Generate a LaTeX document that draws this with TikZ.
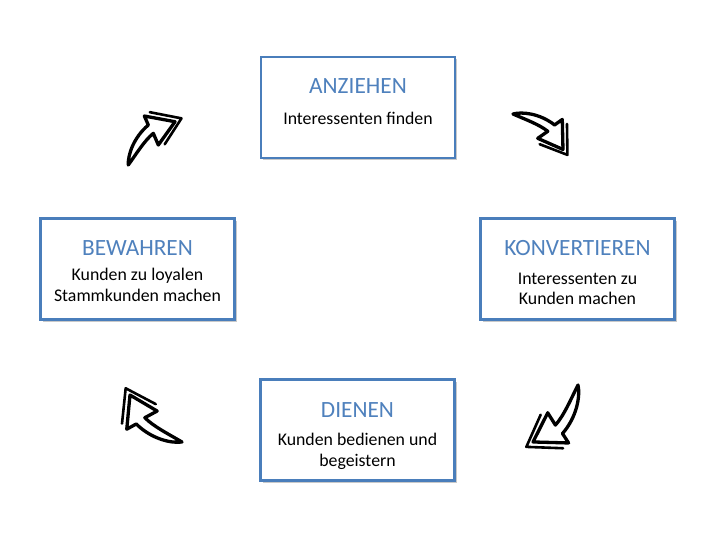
\documentclass[tikz,border=0pt]{standalone}
\usepackage{fontspec}
\setmainfont{Carlito}
\usetikzlibrary{shadows}
\definecolor{boxblue}{RGB}{74,126,187}
\definecolor{titleblue}{RGB}{79,129,189}
\tikzset{
 stagebox/.style={draw=boxblue, line width=2.6pt, fill=white, minimum width=194pt, minimum height=101pt, inner sep=0pt,
   drop shadow={shadow xshift=2pt, shadow yshift=-2.5pt, opacity=0.35, fill=black!60}},
 titletext/.style={anchor=base, inner sep=0pt, font=\fontsize{23.3}{28}\selectfont, text=titleblue},
 bodytext/.style={anchor=base, inner sep=0pt, font=\fontsize{17.8}{21}\selectfont, text=black},
 arrowline/.style={draw=black, line width=3.3pt, fill=white, line join=round, line cap=round},
 arrowdouble/.style={draw=black, line width=2.6pt, line join=round, line cap=round},
}
\newcommand{\cyclearrow}[4]{%
 \begin{scope}[shift={(#1,#2)}, rotate=#3, scale=#4]
 \draw[arrowline] (0,0) .. controls (0.1,0.12) and (0.35,0.26) .. (0.657,0.247) -- (0.707,0.393) -- (1,0) -- (0.559,-0.09) -- (0.626,0.098) .. controls (0.45,0.11) and (0.2,0.04) .. cycle;
 \draw[arrowdouble] (0.811,0.379) -- (1.11,-0.03) -- (0.64,-0.15);
 \end{scope}}
\begin{document}
\begin{tikzpicture}[x=1pt,y=1pt]
\useasboundingbox (0,0) rectangle (720,540);
\fill[white] (0,0) rectangle (720,540);

\node[stagebox] (anz) at (358,432.5) {};
\node[titletext] (anzT) at (358,446) {ANZIEHEN};
\node[bodytext] (anzB) at (358,415) {Interessenten finden};

\node[stagebox] (bew) at (137.5,271) {};
\node[titletext] (bewT) at (137.5,284) {BEWAHREN};
\node[bodytext] (bewB1) at (137.5,259) {Kunden zu loyalen};
\node[bodytext] (bewB2) at (137.5,238.3) {Stammkunden machen};

\node[stagebox] (kon) at (577.5,271) {};
\node[titletext] (konT) at (577.5,284) {KONVERTIEREN};
\node[bodytext] (konB1) at (577.5,255) {Interessenten zu};
\node[bodytext] (konB2) at (577.5,235) {Kunden machen};

\node[stagebox] (die) at (357.5,110) {};
\node[titletext] (dieT) at (357.5,122.3) {DIENEN};
\node[bodytext] (dieB1) at (357.5,94.3) {Kunden bedienen und};
\node[bodytext] (dieB2) at (357.5,73.3) {begeistern};

\cyclearrow{128.3}{375}{42.8}{63.7}
\cyclearrow{513}{426}{-35.37}{61.3}
\cyclearrow{578}{155}{-128.3}{72.6}
\cyclearrow{182}{98}{137.9}{70.1}
\end{tikzpicture}
\end{document}
